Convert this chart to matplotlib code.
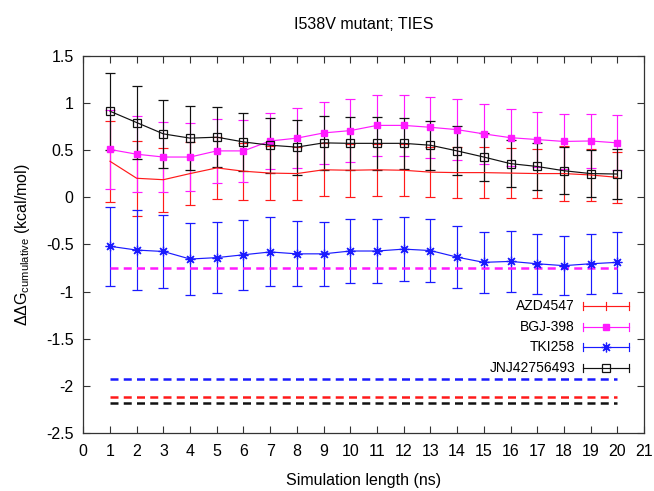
import matplotlib
matplotlib.use("Agg")
import matplotlib.pyplot as plt
import numpy as np

plt.rcParams['font.family'] = ['Liberation Sans', 'DejaVu Sans']
plt.rcParams['mathtext.default'] = 'regular'

sim_ns = list(range(1, 21))

azd_mean = [0.38, 0.20, 0.185, 0.25, 0.31, 0.275, 0.255, 0.25, 0.29, 0.285,
            0.29, 0.285, 0.265, 0.26, 0.26, 0.255, 0.25, 0.25, 0.235, 0.21]
azd_err = [0.43, 0.40, 0.34, 0.33, 0.325, 0.30, 0.29, 0.285, 0.28, 0.28,
           0.275, 0.275, 0.265, 0.27, 0.27, 0.265, 0.26, 0.29, 0.275, 0.27]

bgj_mean = [0.505, 0.455, 0.425, 0.425, 0.49, 0.49, 0.595, 0.625, 0.68, 0.705,
            0.76, 0.76, 0.74, 0.715, 0.67, 0.63, 0.61, 0.59, 0.595, 0.575]
bgj_err = [0.42, 0.40, 0.37, 0.36, 0.335, 0.33, 0.30, 0.32, 0.33, 0.33,
           0.32, 0.32, 0.32, 0.32, 0.32, 0.30, 0.29, 0.29, 0.29, 0.29]

tki_mean = [-0.52, -0.56, -0.575, -0.655, -0.64, -0.61, -0.58, -0.60, -0.60, -0.57,
            -0.57, -0.55, -0.565, -0.635, -0.69, -0.68, -0.705, -0.725, -0.705, -0.69]
tki_err = [0.42, 0.42, 0.39, 0.38, 0.375, 0.37, 0.365, 0.345, 0.34, 0.34,
           0.335, 0.335, 0.335, 0.33, 0.325, 0.32, 0.32, 0.31, 0.32, 0.32]

jnj_mean = [0.91, 0.79, 0.67, 0.625, 0.635, 0.585, 0.55, 0.53, 0.575, 0.57,
            0.57, 0.57, 0.55, 0.49, 0.425, 0.355, 0.325, 0.28, 0.25, 0.245]
jnj_err = [0.41, 0.39, 0.36, 0.34, 0.32, 0.31, 0.29, 0.29, 0.285, 0.28,
           0.277, 0.27, 0.26, 0.26, 0.25, 0.25, 0.25, 0.25, 0.25, 0.26]

labels = ['AZD4547', 'BGJ-398', 'TKI258', 'JNJ42756493']
colors = ['#ff1a1a', '#ff1aff', '#1a1aff', '#111111']
ref_values = [-2.115, -0.745, -1.92, -2.18]   # AZD, BGJ, TKI, JNJ (dashed)
ref_start, ref_end = 1, 20

fig = plt.figure(figsize=(6.54, 4.91), dpi=100)
ax = fig.add_axes([83.3/654, 1-433.3/491, 560.7/654, 377.8/491])

FS = 11.5
LW = 0.85
asterisk = (8, 2, 0)
styles = [dict(marker=None), dict(marker='s', ms=5, mfc=colors[1], mec=colors[1]),
          dict(marker=asterisk, ms=7, mec=colors[2], mew=0.9),
          dict(marker='s', ms=5.5, mfc='none', mec=colors[3], mew=0.9)]
series = [(azd_mean, azd_err), (bgj_mean, bgj_err), (tki_mean, tki_err), (jnj_mean, jnj_err)]

for (m, e), c, st in zip(series, colors, styles):
    ax.errorbar(sim_ns, m, yerr=e, color=c, lw=LW, elinewidth=LW,
                capsize=3.6, capthick=LW, **st)

for v, c in zip(ref_values, colors):
    ax.plot([ref_start, ref_end], [v, v], color=c, lw=1.8, dashes=(3.2, 2.1))

ax.set_xlim(0, 21)
ax.set_ylim(-2.5, 1.5)
ax.set_xticks(range(0, 22))
ax.set_yticks(np.arange(-2.5, 1.51, 0.5))
ax.set_yticklabels(['-2.5', '-2', '-1.5', '-1', '-0.5', '0', '0.5', '1', '1.5'])
ax.tick_params(direction='in', length=5.3, width=0.8, top=True, right=True,
               labelsize=FS, colors='#333333', labelcolor='black')
ax.tick_params(axis='x', pad=7.5)
ax.tick_params(axis='y', pad=7)
for s in ax.spines.values():
    s.set_color('#333333')
    s.set_linewidth(0.9)

ax.set_title('I538V mutant; TIES', fontsize=FS, pad=19)
ax.set_xlabel('Simulation length (ns)', fontsize=FS, labelpad=10)
ax.set_ylabel('ΔΔG$_{cumulative}$ (kcal/mol)', fontsize=FS, labelpad=10)

# gnuplot-style key
row_y = [0.337, 0.2806, 0.2292, 0.1736]
x0, x1, xt = 0.8917, 0.9738, 0.877
cap_h = 0.0105
for lab, c, st, yy in zip(labels, colors, styles, row_y):
    ax.text(xt, yy, lab, transform=ax.transAxes, ha='right', va='center', fontsize=10)
    ax.plot([x0, x1], [yy, yy], color=c, lw=LW, transform=ax.transAxes, clip_on=False)
    for xx in (x0, x1):
        ax.plot([xx, xx], [yy - cap_h, yy + cap_h], color=c, lw=LW,
                transform=ax.transAxes, clip_on=False)
    xm = (x0 + x1) / 2
    if st.get('marker') is None:
        ax.plot([xm, xm], [yy - cap_h, yy + cap_h], color=c, lw=LW,
                transform=ax.transAxes, clip_on=False)
    else:
        ax.plot([xm], [yy], transform=ax.transAxes, clip_on=False, ls='none',
                **{k: v for k, v in st.items()})

fig.savefig('out.png', dpi=100)
